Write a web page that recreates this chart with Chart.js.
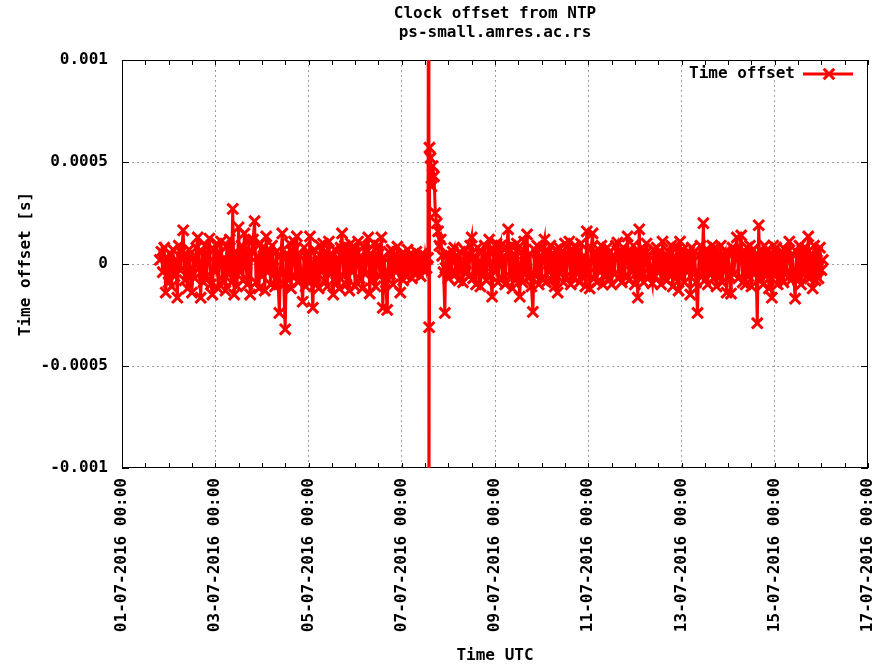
<!DOCTYPE html>
<html>
<head>
<meta charset="utf-8">
<title>Clock offset from NTP</title>
<script src="https://cdn.jsdelivr.net/npm/chart.js@4.4.1/dist/chart.umd.min.js"></script>
<style>
  html, body { margin: 0; padding: 0; background: #fff; }
</style>
</head>
<body>
<canvas id="offsetChart" width="890" height="665"></canvas>
<script>
// hours since 01-07-2016 00:00 UTC, one row = 6 hours
const sampleHours = [
  19.5, 20.25, 21.0, 21.75, 22.5, 23.25, 24.0, 24.75,
  25.5, 26.25, 27.0, 27.75, 28.5, 29.25, 30.0, 30.75,
  31.5, 32.25, 33.0, 33.75, 34.5, 35.25, 36.0, 36.75,
  37.5, 38.25, 39.0, 39.75, 40.5, 41.25, 42.0, 42.75,
  43.5, 44.25, 45.0, 45.75, 46.5, 47.25, 48.0, 48.75,
  49.5, 50.25, 51.0, 51.75, 52.5, 53.25, 54.0, 54.75,
  55.5, 56.25, 57.0, 57.75, 58.5, 59.25, 60.0, 60.75,
  61.5, 62.25, 63.0, 63.75, 64.5, 65.25, 66.0, 66.75,
  67.5, 68.25, 69.0, 69.75, 70.5, 71.25, 72.0, 72.75,
  73.5, 74.25, 75.0, 75.75, 76.5, 77.25, 78.0, 78.75,
  79.5, 80.25, 81.0, 81.75, 82.5, 83.25, 84.0, 84.75,
  85.5, 86.25, 87.0, 87.75, 88.5, 89.25, 90.0, 90.75,
  91.5, 92.25, 93.0, 93.75, 94.5, 95.25, 96.0, 96.75,
  97.5, 98.25, 99.0, 99.75, 100.5, 101.25, 102.0, 102.75,
  103.5, 104.25, 105.0, 105.75, 106.5, 107.25, 108.0, 108.75,
  109.5, 110.25, 111.0, 111.75, 112.5, 113.25, 114.0, 114.75,
  115.5, 116.25, 117.0, 117.75, 118.5, 119.25, 120.0, 120.75,
  121.5, 122.25, 123.0, 123.75, 124.5, 125.25, 126.0, 126.75,
  127.5, 128.25, 129.0, 129.75, 130.5, 131.25, 132.0, 132.75,
  133.5, 134.25, 135.0, 135.75, 136.5, 137.25, 138.0, 138.75,
  139.5, 140.25, 141.0, 141.75, 142.5, 143.25, 144.0, 144.75,
  145.5, 146.25, 147.0, 147.75, 148.5, 149.25, 150.0, 150.75,
  151.5, 152.25, 153.0, 153.75, 154.5, 155.25, 156.0, 156.75,
  157.5,
  // step on 07-07 around 14:00
  157.9, 158.0, 158.1, 158.3, 158.8, 159.3, 159.9, 160.6,
  161.3, 162.0, 162.7, 163.4, 164.1, 164.8, 165.5, 166.2,
  166.5, 167.25, 168.0, 168.75, 169.5, 170.25, 171.0, 171.75,
  172.5, 173.25, 174.0, 174.75, 175.5, 176.25, 177.0, 177.75,
  178.5, 179.25, 180.0, 180.75, 181.5, 182.25, 183.0, 183.75,
  184.5, 185.25, 186.0, 186.75, 187.5, 188.25, 189.0, 189.75,
  190.5, 191.25, 192.0, 192.75, 193.5, 194.25, 195.0, 195.75,
  196.5, 197.25, 198.0, 198.75, 199.5, 200.25, 201.0, 201.75,
  202.5, 203.25, 204.0, 204.75, 205.5, 206.25, 207.0, 207.75,
  208.5, 209.25, 210.0, 210.75, 211.5, 212.25, 213.0, 213.75,
  214.5, 215.25, 216.0, 216.75, 217.5, 218.25, 219.0, 219.75,
  220.5, 221.25, 222.0, 222.75, 223.5, 224.25, 225.0, 225.75,
  226.5, 227.25, 228.0, 228.75, 229.5, 230.25, 231.0, 231.75,
  232.5, 233.25, 234.0, 234.75, 235.5, 236.25, 237.0, 237.75,
  238.5, 239.25, 240.0, 240.75, 241.5, 242.25, 243.0, 243.75,
  244.5, 245.25, 246.0, 246.75, 247.5, 248.25, 249.0, 249.75,
  250.5, 251.25, 252.0, 252.75, 253.5, 254.25, 255.0, 255.75,
  256.5, 257.25, 258.0, 258.75, 259.5, 260.25, 261.0, 261.75,
  262.5, 263.25, 264.0, 264.75, 265.5, 266.25, 267.0, 267.75,
  268.5, 269.25, 270.0, 270.75, 271.5, 272.25, 273.0, 273.75,
  274.5, 275.25, 276.0, 276.75, 277.5, 278.25, 279.0, 279.75,
  280.5, 281.25, 282.0, 282.75, 283.5, 284.25, 285.0, 285.75,
  286.5, 287.25, 288.0, 288.75, 289.5, 290.25, 291.0, 291.75,
  292.5, 293.25, 294.0, 294.75, 295.5, 296.25, 297.0, 297.75,
  298.5, 299.25, 300.0, 300.75, 301.5, 302.25, 303.0, 303.75,
  304.5, 305.25, 306.0, 306.75, 307.5, 308.25, 309.0, 309.75,
  310.5, 311.25, 312.0, 312.75, 313.5, 314.25, 315.0, 315.75,
  316.5, 317.25, 318.0, 318.75, 319.5, 320.25, 321.0, 321.75,
  322.5, 323.25, 324.0, 324.75, 325.5, 326.25, 327.0, 327.75,
  328.5, 329.25, 330.0, 330.75, 331.5, 332.25, 333.0, 333.75,
  334.5, 335.25, 336.0, 336.75, 337.5, 338.25, 339.0, 339.75,
  340.5, 341.25, 342.0, 342.75, 343.5, 344.25, 345.0, 345.75,
  346.5, 347.25, 348.0, 348.75, 349.5, 350.25, 351.0, 351.75,
  352.5, 353.25, 354.0, 354.75, 355.5, 356.25, 357.0, 357.75,
  358.5, 359.25, 360.0, 360.75
];

// clock offset in microseconds, same layout as sampleHours
const offsetMicros = [
  20, 60, -40, 80, -140, 30, -90, 50,
  -110, 70, -60, 20, -165, 90, -30, 60,
  165, -80, 40, -120, 70, -50, -140, 30,
  -70, 80, 130, -20, -165, 60, -90, 90,
  -60, 40, 125, -100, -150, 70, -40, 100,
  -120, 50, 110, -80, 30, -130, 90, -50,
  120, -90, 270, -150, 60, -110, 180, -40,
  90, -80, 150, 20, -100, 110, -150, 60,
  120, 210, -90, 40, -120, 100, -60, 80,
  -130, 135, -40, 70, -100, 90, -20, -110,
  60, -70, -240, 40, 150, -100, -320, 50,
  -80, 100, -120, 60, 110, -60, 135, -90,
  40, -70, -185, 80, -110, 50, -90, 135,
  -60, -215, 70, -100, 30, -120, 90, -40,
  100, -80, 60, -110, 110, -50, 40, -150,
  70, -90, 30, -120, 80, 150, -60, 90,
  -100, 60, -130, 100, -40, 80, -110, 50,
  110, -70, 40, -120, 90, -50, 60, 130,
  -145, 50, -80, 100, -110, 40, 90, -60,
  130, -215, 30, -90, -225, 60, -50, 70,
  -100, 40, -40, 85, 20, -140, 50, -80,
  40, -60, 70, -30, 50, -70, 30, -50,
  60, -40, 20, -60, 50, -30, 40, -20,
  30,
  3000, -3000, -310, 570, 520, 380, 480, 430,
  250, 200, 160, 90, 120, 40, -40, -240,
  -20, 50, -70, 30, -40, 60, 80, -50,
  40, -80, 60, -30, -90, 70, -40, 50,
  -60, 90, 130, -70, 40, -100, 80, -30,
  -110, 60, -50, 90, -80, 30, 120, -60,
  -160, 70, -40, 100, -90, 50, 90, -70,
  40, -100, 80, 170, -60, 90, -120, 50,
  -80, 100, -40, -160, 60, -90, 110, -50,
  145, -70, 50, -110, -235, 70, -60, 90,
  -100, 40, -70, 80, 120, -90, 60, -40,
  90, -80, 50, -110, 70, -140, 80, -50,
  60, -90, 100, -60, 40, 110, -100, 70,
  -70, 90, -40, 60, -90, 100, -60, 40,
  -110, 160, -50, -120, 80, 150, -70, 60,
  -90, 70, -40, 90, -100, 50, -60, 80,
  -80, 60, -100, 40, -50, 90, 105, -70,
  50, -90, 80, -60, 40, 135, -80, 60,
  -40, 90, -100, 60, -165, 170, -60, 80,
  -90, 50, 100, -70, 40, -50, -95, 70,
  -60, 80, -40, 60, -100, 110, -70, 50,
  -80, 60, -50, 90, -110, 40, -70, 80,
  -130, 110, -60, 70, -90, 50, -40, 60,
  -150, 80, -50, 60, -90, -240, 40, 90,
  -60, 200, -80, 70, -100, 60, -40, 90,
  -70, 80, -110, 50, -60, 90, -90, 40,
  60, -140, 50, -60, -145, 80, -50, 70,
  130, -70, 50, 140, -90, 60, -100, 80,
  -60, 90, -110, 70, -50, 40, -290, 190,
  -80, 60, -100, 90, -60, 70, -120, 50,
  -165, 90, -60, 80, -100, 50, -70, 60,
  -90, 70, -40, 60, 110, -80, 50, -60,
  -170, 60, -80, 90, -100, 70, -50, 80,
  -60, 135, -70, 50, -120, 90, -80, 60,
  -70, 80, -30, 20
];

const xTickHours = [0, 48, 96, 144, 192, 240, 288, 336, 384];
const xTickLabels = [
  '01-07-2016 00:00', '03-07-2016 00:00', '05-07-2016 00:00',
  '07-07-2016 00:00', '09-07-2016 00:00', '11-07-2016 00:00',
  '13-07-2016 00:00', '15-07-2016 00:00', '17-07-2016 00:00'
];
const yTickValues = [-0.001, -0.0005, 0, 0.0005, 0.001];
const yTickLabels = ['-0.001', '-0.0005', '0', '0.0005', '0.001'];

const FONT = { family: '"DejaVu Sans Mono", monospace', size: 16, weight: 'bold' };
const RED = '#ff0000';

// gnuplot style: frame, inward ticks, legend inside the plot
const gnuplotFrame = {
    id: 'gnuplotFrame',
    beforeDatasetsDraw(chart) {
        const { ctx, chartArea: a, scales: { x, y } } = chart;
        ctx.save();
        ctx.strokeStyle = '#000';
        ctx.lineWidth = 1;
        ctx.strokeRect(a.left + 0.5, a.top + 0.5, a.right - a.left - 1, a.bottom - a.top - 1);
        ctx.beginPath();
        for (let h = x.min; h <= x.max; h += 12) {
            const px = Math.round(x.getPixelForValue(h)) + 0.5;
            ctx.moveTo(px, a.top); ctx.lineTo(px, a.top + 5);
            ctx.moveTo(px, a.bottom); ctx.lineTo(px, a.bottom - 5);
        }
        yTickValues.forEach(v => {
            const py = Math.round(y.getPixelForValue(v)) + 0.5;
            ctx.moveTo(a.left, py); ctx.lineTo(a.left + 7, py);
            ctx.moveTo(a.right, py); ctx.lineTo(a.right - 7, py);
        });
        ctx.stroke();
        ctx.restore();
    },
    afterDraw(chart) {
        const ctx = chart.ctx;
        const ly = 74;
        ctx.save();
        ctx.font = `bold ${FONT.size}px ${FONT.family}`;
        ctx.fillStyle = '#000';
        ctx.textAlign = 'right';
        ctx.textBaseline = 'middle';
        ctx.fillText('Time offset', 795, ly);
        ctx.strokeStyle = RED;
        ctx.lineWidth = 3;
        ctx.beginPath();
        ctx.moveTo(803, ly); ctx.lineTo(853, ly);
        ctx.stroke();
        Chart.helpers.drawPoint(ctx, { pointStyle: 'crossRot', radius: 7.5, borderWidth: 3 }, 829, ly);
        ctx.restore();
    }
};

const edgeless = (scale, tick) =>
    (tick.value === scale.min || tick.value === scale.max) ? 'rgba(0,0,0,0)' : '#a0a0a0';

const ctx = document.getElementById('offsetChart').getContext('2d');

new Chart(ctx, {
    type: 'line',
    data: {
        datasets: [{
            label: 'Time offset',
            data: sampleHours.map((h, i) => ({ x: h, y: offsetMicros[i] * 1e-6 })),
            borderColor: RED,
            backgroundColor: RED,
            borderWidth: 3,
            pointStyle: 'crossRot',
            pointRadius: 7.5,
            pointHoverRadius: 7.5,
            pointBorderWidth: 3,
            tension: 0,
            fill: false,
            clip: 0
        }]
    },
    options: {
        responsive: false,
        animation: false,
        events: [],
        layout: { padding: { left: 6, right: 22, top: 0, bottom: 0 } },
        plugins: {
            legend: { display: false },
            tooltip: { enabled: false },
            title: {
                display: true,
                fullSize: false,
                text: ['Clock offset from NTP', 'ps-small.amres.ac.rs'],
                color: '#000',
                font: { ...FONT, lineHeight: 1.2 },
                padding: { top: 4, bottom: 17.6 }
            }
        },
        scales: {
            x: {
                type: 'linear',
                min: 0,
                max: 384,
                afterBuildTicks: s => { s.ticks = xTickHours.map(v => ({ value: v })); },
                afterFit: s => {
                    s.height = 197;
                    s.paddingLeft = 0;
                    s.paddingRight = 0;
                },
                ticks: {
                    autoSkip: false,
                    maxRotation: 90,
                    minRotation: 90,
                    padding: 10,
                    color: '#000',
                    font: FONT,
                    callback: v => xTickLabels[xTickHours.indexOf(v)]
                },
                grid: {
                    color: c => edgeless(c.scale, c.tick),
                    drawTicks: false,
                    lineWidth: 1
                },
                border: { display: false, dash: [2, 3] },
                title: {
                    display: true,
                    text: 'Time UTC',
                    color: '#000',
                    font: { ...FONT, lineHeight: 1.2 },
                    padding: { top: 0, bottom: 0 }
                }
            },
            y: {
                min: -0.001,
                max: 0.001,
                afterBuildTicks: s => { s.ticks = yTickValues.map(v => ({ value: v })); },
                afterFit: s => { s.width = 116; },
                ticks: {
                    padding: 14,
                    color: '#000',
                    font: FONT,
                    callback: v => yTickLabels[yTickValues.indexOf(v)]
                },
                grid: {
                    color: c => edgeless(c.scale, c.tick),
                    drawTicks: false,
                    lineWidth: 1
                },
                border: { display: false, dash: [2, 3] },
                title: {
                    display: true,
                    text: 'Time offset [s]',
                    color: '#000',
                    font: { ...FONT, lineHeight: 1.2 },
                    padding: { top: 10, bottom: 0 }
                }
            }
        }
    },
    plugins: [gnuplotFrame]
});
</script>
</body>
</html>
